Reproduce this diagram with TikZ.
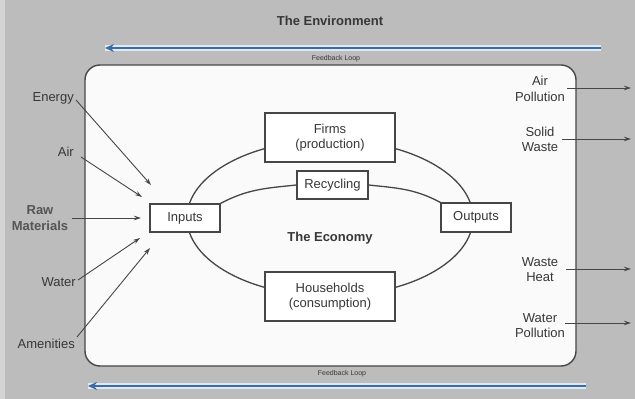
\documentclass[tikz,border=0pt]{standalone}
\usepackage{fontspec}
\setmainfont{Liberation Sans}
\usetikzlibrary{arrows.meta}
\definecolor{bg}{RGB}{188,188,188}
\definecolor{edgegray}{RGB}{212,212,212}
\definecolor{ink}{RGB}{55,55,55}
\definecolor{lineink}{RGB}{70,70,70}
\definecolor{fbblue}{RGB}{58,108,170}
\definecolor{fbhalo}{RGB}{224,232,240}
\definecolor{panel}{RGB}{250,250,250}
\tikzset{
  lbl/.style={font=\fontsize{13}{15.5}\selectfont, text=ink, align=center, inner sep=0pt},
  boldlbl/.style={lbl, font=\fontsize{13}{15.5}\selectfont\bfseries},
  econbox/.style={draw=lineink, line width=1.2pt, fill=white, lbl, minimum width=#1},
  econbox/.default=70pt,
  flow/.style={draw=lineink, line width=0.9pt, -{Stealth[length=7pt,width=4.5pt]}},
  loopline/.style={draw=lineink, line width=1.3pt},
  fbtext/.style={font=\fontsize{7}{8}\selectfont, text=ink, inner sep=0pt},
  fbhalo/.style={draw=fbhalo, line width=6pt},
  fbarrow/.style={draw=fbblue, line width=2.8pt, {Stealth[length=9pt,width=8pt]}-},
}
\begin{document}
\begin{tikzpicture}[x=1pt,y=1pt]
\useasboundingbox (0,0) rectangle (635,399);
\fill[bg] (0,0) rectangle (635,399);
\fill[edgegray] (0,0) rectangle (5,399);

% title
\node[boldlbl] (env) at (330,378) {The Environment};

% top feedback loop
\coordinate (ftR) at (601,351);
\coordinate (ftL) at (105,351);
\draw[fbhalo] (ftR) -- (ftL);
\draw[fbarrow] (ftL) -- (ftR);
\node[fbtext] (fbtop) at (336,340) {Feedback Loop};

% economy panel
\node[draw=lineink, line width=1.4pt, fill=panel, rounded corners=15pt,
      minimum width=491pt, minimum height=301pt, inner sep=0pt] (panel) at (330.5,183.5) {};

% bottom feedback loop
\node[fbtext] (fbbot) at (342,25) {Feedback Loop};
\coordinate (fbR) at (586,13);
\coordinate (fbL) at (88,13);
\draw[fbhalo] (fbR) -- (fbL);
\draw[fbarrow] (fbL) -- (fbR);

% outer loop
\draw[loopline] (330,181) ellipse [x radius=143pt, y radius=78pt];

% boxes
\node[econbox=130pt, minimum height=49pt] (firms) at (330,261.5) {Firms\\(production)};
\node[econbox=130pt, minimum height=49pt] (house) at (330,102.5) {Households\\(consumption)};
\node[econbox=70pt, minimum height=28pt] (inputs) at (185,181) {Inputs};
\node[econbox=70pt, minimum height=29pt] (outputs) at (476,181.5) {Outputs};
\node[econbox=71pt, minimum height=28pt] (recyc) at (332.5,214) {Recycling};

% recycling arc
\draw[loopline] (inputs.north east) to[out=28,in=186] (recyc.west);
\draw[loopline] (recyc.east) to[out=-6,in=152] (outputs.north west);

\node[boldlbl] (economy) at (330,161) {The Economy};

% inputs from environment
\node[lbl, anchor=east] (energy) at (74,301) {Energy};
\node[lbl, anchor=east] (air) at (74,247) {Air};
\node[boldlbl, text=ink!85] (raw) at (40,181) {Raw\\Materials};
\node[lbl, anchor=east] (water) at (76,117) {Water};
\node[lbl, anchor=east] (amen) at (75,55) {Amenities};

\coordinate (tEnergy) at (151,214);
\coordinate (tAir) at (142,202);
\coordinate (tRaw) at (141,181);
\coordinate (tWater) at (140,161);
\coordinate (tAmen) at (150,151);

\draw[flow] (energy.east) ++(2,-2) -- (tEnergy);
\draw[flow] (air.east) ++(7,-5) -- (tAir);
\draw[flow] (raw.east) ++(4,0) -- (tRaw);
\draw[flow] (water.east) ++(2,2) -- (tWater);
\draw[flow] (amen.east) ++(2,7) -- (tAmen);

% outputs to environment
\node[lbl] (airpol) at (540,310) {Air\\Pollution};
\node[lbl] (solid) at (540,259.5) {Solid\\Waste};
\node[lbl] (heat) at (540,129.5) {Waste\\Heat};
\node[lbl] (watpol) at (540,73.5) {Water\\Pollution};

\coordinate (oAir) at (631,311);
\coordinate (oSolid) at (631,260);
\coordinate (oHeat) at (631,130);
\coordinate (oWater) at (631,76);

\draw[flow] (airpol.east |- oAir) ++(2,0) -- (oAir);
\draw[flow] (solid.east |- oSolid) ++(4,0) -- (oSolid);
\draw[flow] (heat.east |- oHeat) ++(8,0) -- (oHeat);
\draw[flow] (watpol.east |- oWater) ++(0,0) -- (oWater);
\end{tikzpicture}
\end{document}
